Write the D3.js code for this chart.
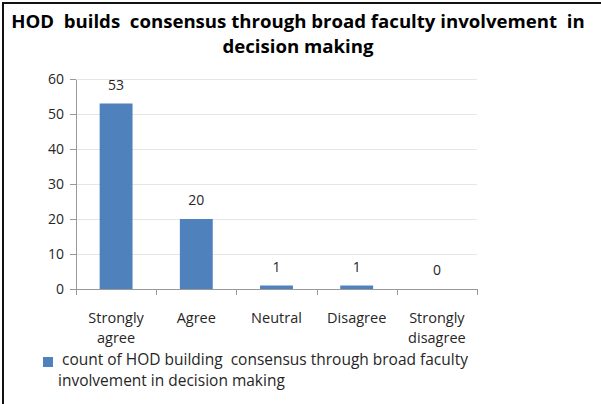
<!DOCTYPE html>
<meta charset="utf-8">
<style>
body { margin: 0; background: #fff; }
svg text { font-family: "Open Sans", sans-serif; fill: #262626; white-space: pre; }
.axis path, .axis line { stroke: #999; stroke-width: 1; shape-rendering: crispEdges; }
.grid line { stroke: #e6e6e6; shape-rendering: crispEdges; }
</style>
<body>
<script src="https://cdn.jsdelivr.net/npm/d3@7"></script>
<script>

var categories = [["Strongly", "agree"], ["Agree"], ["Neutral"], ["Disagree"], ["Strongly", "disagree"]];
var counts = [53, 20, 1, 1, 0];
var yTicks = [0, 10, 20, 30, 40, 50, 60];
var titleLines = ["HOD  builds  consensus through broad faculty involvement  in", "decision making"];
var legendLines = ["count of HOD building  consensus through broad faculty", "involvement in decision making"];

var width = 601, height = 404;
var plot = {left: 76, right: 477, top: 79, bottom: 289};

var svg = d3.select("body").append("svg")
    .attr("width", width)
    .attr("height", height);

svg.append("rect").attr("width", width).attr("height", height).attr("fill", "#fff");

// frame (top and left edges visible)
svg.append("path")
    .attr("d", "M3," + height + "V3H" + width)
    .attr("fill", "none")
    .attr("stroke", "#111")
    .attr("stroke-width", 2);

var data = categories.map(function(c, i) { return {label: c, key: c.join(" "), value: counts[i]}; });

var x = d3.scaleBand()
    .domain(data.map(function(d) { return d.key; }))
    .range([plot.left, plot.right])
    .paddingInner(0.59)
    .paddingOuter(0.295);

var y = d3.scaleLinear().domain([0, 60]).range([plot.bottom, plot.top]);

// shrink/grow font so a text node spans the given width
function fitWidth(sel, target) {
  sel.each(function() {
    var fs = parseFloat(d3.select(this).style("font-size"));
    var w = this.getComputedTextLength();
    d3.select(this).style("font-size", (fs * target / w).toFixed(2) + "px");
  });
}

// title
var title = svg.append("g").selectAll("text")
    .data(titleLines)
    .enter().append("text")
    .attr("x", 298)
    .attr("y", function(d, i) { return 28 + i * 25; })
    .attr("text-anchor", "middle")
    .style("font-size", "18px")
    .style("font-weight", "bold")
    .style("fill", "#000")
    .text(function(d) { return d; });
fitWidth(title.filter(function(d, i) { return i === 0; }), 574);
title.filter(function(d, i) { return i === 1; })
    .style("font-size", title.filter(function(d, i) { return i === 0; }).style("font-size"));

// gridlines
svg.append("g").attr("class", "grid")
    .selectAll("line")
    .data(yTicks.filter(function(t) { return t > 0; }))
    .enter().append("line")
    .attr("x1", plot.left).attr("x2", plot.right)
    .attr("y1", function(d) { return Math.round(y(d)) + 0.5; })
    .attr("y2", function(d) { return Math.round(y(d)) + 0.5; });

// bars
svg.append("g").selectAll("rect")
    .data(data)
    .enter().append("rect")
    .attr("x", function(d) { return x(d.key); })
    .attr("width", x.bandwidth())
    .attr("y", function(d) { return y(d.value); })
    .attr("height", function(d) { return y(0) - y(d.value); })
    .attr("fill", "#4f81bd");

// value labels
svg.append("g").selectAll("text")
    .data(data)
    .enter().append("text")
    .attr("x", function(d) { return x(d.key) + x.bandwidth() / 2; })
    .attr("y", function(d) { return y(d.value) - 14; })
    .attr("text-anchor", "middle")
    .style("font-size", "14px")
    .text(function(d) { return d.value; });

// y axis
var yAxis = svg.append("g")
    .attr("class", "axis")
    .attr("transform", "translate(" + plot.left + ",0)")
    .call(d3.axisLeft(y).tickValues(yTicks).tickSize(6).tickSizeOuter(0).tickPadding(6));
yAxis.selectAll("text").style("font-size", "14px").attr("fill", "#262626");

// x axis with ticks at category boundaries
var xAxis = svg.append("g")
    .attr("class", "axis")
    .attr("transform", "translate(0," + plot.bottom + ")");
xAxis.append("line")
    .attr("x1", plot.left).attr("x2", plot.right)
    .attr("y1", 0.5).attr("y2", 0.5);
var step = x.step();
xAxis.selectAll(".tick")
    .data(d3.range(data.length + 1))
    .enter().append("line")
    .attr("x1", function(i) { return Math.round(plot.left + i * step) + 0.5; })
    .attr("x2", function(i) { return Math.round(plot.left + i * step) + 0.5; })
    .attr("y1", 0).attr("y2", 6);

var catLabels = svg.append("g").selectAll("text")
    .data(data)
    .enter().append("text")
    .attr("x", function(d) { return x(d.key) + x.bandwidth() / 2; })
    .attr("y", 323)
    .attr("text-anchor", "middle")
    .style("font-size", "14.5px");
catLabels.selectAll("tspan")
    .data(function(d) { return d.label; })
    .enter().append("tspan")
    .attr("x", function() { var p = d3.select(this.parentNode).datum(); return x(p.key) + x.bandwidth() / 2; })
    .attr("dy", function(d, i) { return i === 0 ? 0 : 20; })
    .text(function(d) { return d; });

// legend
svg.append("rect")
    .attr("x", 43).attr("y", 357)
    .attr("width", 10).attr("height", 10)
    .attr("fill", "#4f81bd");
var legend = svg.append("g").selectAll("text")
    .data(legendLines)
    .enter().append("text")
    .attr("x", function(d, i) { return i === 0 ? 62 : 58; })
    .attr("y", function(d, i) { return 365 + i * 21; })
    .style("font-size", "14px")
    .text(function(d) { return d; });
fitWidth(legend.filter(function(d, i) { return i === 0; }), 406);
legend.filter(function(d, i) { return i === 1; })
    .style("font-size", legend.filter(function(d, i) { return i === 0; }).style("font-size"));

</script>
</body>
